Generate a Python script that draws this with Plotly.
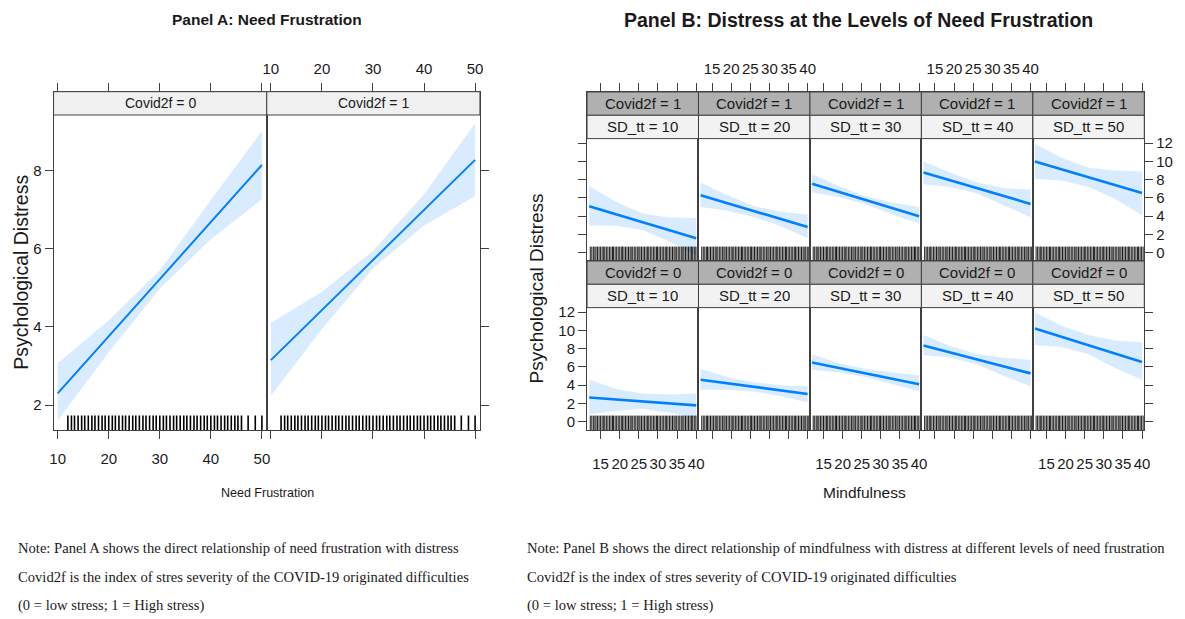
import plotly.graph_objects as go

W, H = 1185, 619

# ------------------------------------------------------------------ data
# Panel A: effect of need frustration, by Covid2f
nf_x = [10, 20, 30, 40, 50]
a_fit_c0 = [2.30, 3.76, 5.22, 6.69, 8.15]
a_lo_c0 = [1.60, 3.35, 4.98, 6.25, 7.27]
a_hi_c0 = [3.07, 4.17, 5.45, 7.25, 9.02]
a_fit_c1 = [3.15, 4.43, 5.72, 7.00, 8.28]
a_lo_c1 = [2.23, 3.95, 5.50, 6.60, 7.35]
a_hi_c1 = [4.10, 4.90, 5.95, 7.40, 9.22]
a_xticks = [10, 20, 30, 40, 50]
a_yticks = [2, 4, 6, 8]
a_strip_labels = ["Covid2f = 0", "Covid2f = 1"]
nf_rug = [12, 12.7, 13.3, 14, 14.7, 15.3, 16, 16.7, 17.3, 18, 18.7, 19.3, 20, 20.7,
          21.3, 22, 22.7, 23.3, 24, 24.7, 25.3, 26, 26.7, 27.3, 28, 28.7, 29.3, 30,
          30.7, 31.3, 32, 32.7, 33.3, 34, 34.7, 35.3, 36, 36.7, 37.3, 38, 38.7, 39.3,
          40, 40.7, 41.3, 42, 42.7, 43.3, 44, 44.7, 45.3, 46, 47.3, 48.7, 50]

# Panel B: effect of mindfulness at levels of need frustration (SD_tt)
sd_levels = [10, 20, 30, 40, 50]
mind_x = [12, 19, 26, 33, 40]
# Covid2f = 1 (top row), one list per SD_tt level
b_fit_c1 = [[5.10, 4.22, 3.35, 2.45, 1.60],
            [6.30, 5.42, 4.55, 3.68, 2.82],
            [7.55, 6.65, 5.75, 4.85, 4.00],
            [8.80, 7.95, 7.10, 6.20, 5.35],
            [10.00, 9.15, 8.30, 7.40, 6.55]]
b_lo_c1 = [[3.00, 2.95, 2.50, 1.20, -0.30],
           [5.00, 4.60, 3.90, 2.90, 1.60],
           [6.60, 6.10, 5.30, 4.20, 3.20],
           [7.50, 7.20, 6.50, 5.20, 3.90],
           [8.10, 7.90, 7.20, 5.90, 4.10]]
b_hi_c1 = [[7.30, 5.60, 4.30, 3.85, 3.80],
           [7.70, 6.30, 5.10, 4.50, 4.20],
           [8.60, 7.30, 6.20, 5.50, 5.00],
           [10.00, 8.80, 7.70, 7.10, 6.90],
           [11.90, 10.40, 9.30, 9.00, 8.90]]
# Covid2f = 0 (bottom row)
b_fit_c0 = [[2.65, 2.45, 2.25, 2.05, 1.80],
            [4.60, 4.20, 3.85, 3.45, 3.05],
            [6.50, 5.90, 5.30, 4.70, 4.10],
            [8.35, 7.60, 6.85, 6.05, 5.30],
            [10.20, 9.30, 8.40, 7.45, 6.55]]
b_lo_c0 = [[0.80, 1.20, 1.40, 1.00, 0.40],
           [3.50, 3.50, 3.30, 2.80, 2.10],
           [5.70, 5.40, 4.90, 4.10, 3.35],
           [7.30, 7.00, 6.30, 5.00, 3.90],
           [8.40, 8.20, 7.40, 5.90, 4.60]]
b_hi_c0 = [[4.60, 3.60, 3.10, 3.00, 3.10],
           [5.80, 4.90, 4.30, 4.00, 3.90],
           [7.40, 6.40, 5.80, 5.40, 5.10],
           [9.50, 8.30, 7.40, 7.00, 6.80],
           [12.00, 10.50, 9.50, 8.90, 8.70]]
b_xticks = [15, 20, 25, 30, 35, 40]
b_yticks = [0, 2, 4, 6, 8, 10, 12]
mind_rug = [12.3, 12.7, 13.1, 13.5, 13.8, 14.2, 14.6, 15.0, 15.4, 15.8, 16.1, 16.5,
            16.9, 17.3, 17.7, 18.1, 18.4, 18.8, 19.2, 19.6, 20.0, 20.4, 20.7, 21.1,
            21.5, 21.9, 22.3, 22.7, 23.0, 23.4, 23.8, 24.2, 24.6, 25.0, 25.3, 25.7,
            26.1, 26.5, 26.9, 27.3, 27.6, 28.0, 28.4, 28.8, 29.2, 29.6, 29.9, 30.3,
            30.7, 31.1, 31.5, 31.9, 32.2, 32.6, 33.0, 33.4, 33.8, 34.2, 34.5, 34.9,
            35.3, 35.7, 36.1, 36.5, 36.8, 37.2, 37.6, 38.0, 38.4, 38.8, 39.1, 39.5,
            39.9, 40.3]

# ------------------------------------------------------------------ style
LINE_BLUE = "#0080ff"
BAND = "rgba(0,128,255,0.15)"
BOX = "#404040"
FONT = "Liberation Sans, Arial, sans-serif"
SERIF = "Liberation Serif, Times New Roman, serif"
TXT = "#1a1a1a"


def px(xp):
    return xp / W


def py(yp):
    return 1 - yp / H


fig = go.Figure()
layout = dict(width=W, height=H, margin=dict(l=0, r=0, t=0, b=0), autosize=False,
              paper_bgcolor="white", plot_bgcolor="white", showlegend=False)
shapes, annotations = [], []

STRIP_H = 23.3


def axis_base(**kw):
    d = dict(showline=True, linecolor=BOX, linewidth=1, mirror=True, ticks="outside",
             ticklen=8, tickwidth=1, tickcolor=BOX, showgrid=False, zeroline=False,
             fixedrange=True, tickangle=0,
             tickfont=dict(family=FONT, size=15, color=TXT))
    d.update(kw)
    return d


def strip(x0, x1, y0, y1, label, fill, size=14):
    shapes.append(dict(type="rect", xref="paper", yref="paper", x0=px(x0), x1=px(x1),
                       y0=py(y1), y1=py(y0), fillcolor=fill,
                       line=dict(color=BOX, width=1), layer="above"))
    annotations.append(dict(x=px((x0 + x1) / 2), y=py((y0 + y1) / 2), xref="paper",
                            yref="paper", text=label, showarrow=False,
                            font=dict(family=FONT, size=size, color=TXT),
                            xanchor="center", yanchor="middle"))


def add_effect(n, xs, fit, lo, hi, rug, rug_y, lw, rug_w):
    xa, ya = f"x{n}", f"y{n}"
    fig.add_trace(go.Scatter(x=xs + xs[::-1], y=lo + hi[::-1], fill="toself",
                             fillcolor=BAND, line=dict(width=0), mode="lines",
                             hoverinfo="skip", xaxis=xa, yaxis=ya))
    fig.add_trace(go.Scatter(x=xs, y=fit, mode="lines",
                             line=dict(color=LINE_BLUE, width=lw),
                             xaxis=xa, yaxis=ya))
    fig.add_trace(go.Scatter(x=rug, y=[rug_y] * len(rug), mode="markers",
                             marker=dict(symbol="line-ns", size=12,
                                         line=dict(color="black", width=rug_w)),
                             hoverinfo="skip", xaxis=xa, yaxis=ya))


def key(kind, n):
    return f"{kind}axis" if n == 1 else f"{kind}axis{n}"


# ------------------------------------------------------------------ Panel A
A_X = [50, 265, 480]
A_TOP, A_BOT = 91.7, 430.0
A_XR = [9.2, 50.95]
A_YMIN, A_YMAX = 1.36, 9.43
a_panel_px = A_BOT - (A_TOP + STRIP_H)
a_ytop = A_YMAX + STRIP_H * (A_YMAX - A_YMIN) / a_panel_px
a_rug_y = A_YMIN + 6 * (A_YMAX - A_YMIN) / a_panel_px

a_series = [(a_fit_c0, a_lo_c0, a_hi_c0), (a_fit_c1, a_lo_c1, a_hi_c1)]
for i in range(2):
    n = i + 1
    fit, lo, hi = a_series[i]
    add_effect(n, nf_x, fit, lo, hi, nf_rug, a_rug_y, 2, 1.6)
    layout[key("x", n)] = axis_base(
        domain=[px(A_X[i]), px(A_X[i + 1])], range=A_XR, anchor=f"y{n}",
        tickvals=a_xticks, side="bottom" if i == 0 else "top", mirror="ticks",
        showticklabels=True, ticklabelstandoff=7 if i == 0 else 3)
    layout[key("y", n)] = axis_base(
        domain=[py(A_BOT), py(A_TOP)], range=[A_YMIN, a_ytop], anchor=f"x{n}",
        tickvals=a_yticks, side="left" if i == 0 else "right",
        showticklabels=(i == 0))
    strip(A_X[i], A_X[i + 1], A_TOP, A_TOP + STRIP_H, a_strip_labels[i], "#f0f0f0")

# ------------------------------------------------------------------ Panel B
B_X = [588, 700.4, 812.8, 925.2, 1037.6, 1150]
B_ROWS = [(92.0, 261.0), (261.0, 430.0)]
B_XR = [11.45, 40.6]
B_YMIN, B_YMAX = -0.9, 12.5
b_panel_px = (B_ROWS[0][1] - B_ROWS[0][0]) - 2 * STRIP_H
b_ytop = B_YMAX + 2 * STRIP_H * (B_YMAX - B_YMIN) / b_panel_px
b_rug_y = B_YMIN + 6 * (B_YMAX - B_YMIN) / b_panel_px

rows = [("1", b_fit_c1, b_lo_c1, b_hi_c1), ("0", b_fit_c0, b_lo_c0, b_hi_c0)]
n = 3
for r, (cv, fits, los, his) in enumerate(rows):
    top, bot = B_ROWS[r]
    for c in range(5):
        add_effect(n, mind_x, fits[c], los[c], his[c], mind_rug, b_rug_y, 2.6, 0.9)
        if r == 0:
            xlab = c in (1, 3)
            xside = "top"
            stand = 3
        else:
            xlab = c in (0, 2, 4)
            xside = "bottom"
            stand = 12
        layout[key("x", n)] = axis_base(
            domain=[px(B_X[c]), px(B_X[c + 1])], range=B_XR, anchor=f"y{n}",
            tickvals=b_xticks, side=xside, showticklabels=xlab,
            ticklabelstandoff=stand)
        if c == 0:
            yopt = dict(side="left", ticks="outside", showticklabels=(r == 1))
        elif c == 4:
            yopt = dict(side="right", ticks="outside", showticklabels=(r == 0))
        else:
            yopt = dict(side="left", ticks="", showticklabels=False)
        layout[key("y", n)] = axis_base(
            domain=[py(bot), py(top)], range=[B_YMIN, b_ytop], anchor=f"x{n}",
            tickvals=b_yticks, **yopt)
        strip(B_X[c], B_X[c + 1], top, top + STRIP_H, f"Covid2f = {cv}", "#b0b0b0", 15)
        strip(B_X[c], B_X[c + 1], top + STRIP_H, top + 2 * STRIP_H,
              f"SD_tt = {sd_levels[c]}", "#f2f2f2", 15)
        n += 1

# ------------------------------------------------------------------ texts
def text(xp, yp, s, size, family=FONT, bold=False, angle=0, xanchor="center"):
    annotations.append(dict(x=px(xp), y=py(yp), xref="paper", yref="paper",
                            text=f"<b>{s}</b>" if bold else s, showarrow=False,
                            textangle=angle, xanchor=xanchor, yanchor="middle",
                            font=dict(family=family, size=size, color=TXT)))


text(265, 20, "Panel A: Need Frustration", 15.5, bold=True)
text(862, 20, "Panel B: Distress at the Levels of Need Frustration", 19.5, bold=True)
text(17, 272, "Psychological Distress", 19.5, angle=-90)
text(537, 288, "Psychological Distress", 19, angle=-90)
text(266, 493, "Need Frustration", 12.5)
text(868, 493, "Mindfulness", 15.5)

notes_a = ["Note: Panel A shows the direct relationship of need frustration with distress",
           "Covid2f is the index of stres severity of the COVID-19 originated difficulties",
           "(0 = low stress; 1 = High stress)"]
notes_b = ["Note: Panel B shows the direct relationship of mindfulness with distress at different levels of need frustration",
           "Covid2f is the index of stres severity of COVID-19 originated difficulties",
           "(0 = low stress; 1 = High stress)"]
for k, (la, lb) in enumerate(zip(notes_a, notes_b)):
    yy = 548 + k * 28.5
    text(12, yy, la, 14.6, family=SERIF, xanchor="left")
    text(525, yy, lb, 14.6, family=SERIF, xanchor="left")

layout["shapes"] = shapes
layout["annotations"] = annotations
fig.update_layout(**layout)
fig.write_html("out.html")
